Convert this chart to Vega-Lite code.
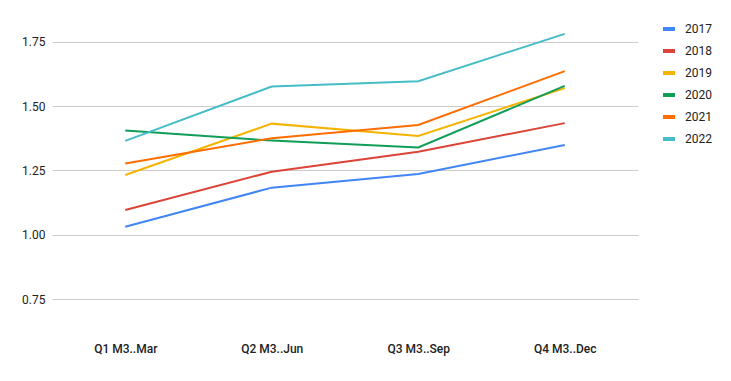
{
  "$schema": "https://vega.github.io/schema/vega-lite/v6.json",
  "width": 586,
  "height": 270,
  "autosize": {"type": "none"},
  "padding": {"left": 52, "top": 29, "right": 93, "bottom": 82},
  "background": "white",
  "config": {
    "view": {"stroke": null},
    "font": "Roboto"
  },
  "data": {
    "values": [
      {"q": "Q1 M3..Mar", "year": "2017", "v": 1.031},
      {"q": "Q2 M3..Jun", "year": "2017", "v": 1.183},
      {"q": "Q3 M3..Sep", "year": "2017", "v": 1.236},
      {"q": "Q4 M3..Dec", "year": "2017", "v": 1.349},
      {"q": "Q1 M3..Mar", "year": "2018", "v": 1.096},
      {"q": "Q2 M3..Jun", "year": "2018", "v": 1.245},
      {"q": "Q3 M3..Sep", "year": "2018", "v": 1.323},
      {"q": "Q4 M3..Dec", "year": "2018", "v": 1.434},
      {"q": "Q1 M3..Mar", "year": "2019", "v": 1.232},
      {"q": "Q2 M3..Jun", "year": "2019", "v": 1.432},
      {"q": "Q3 M3..Sep", "year": "2019", "v": 1.384},
      {"q": "Q4 M3..Dec", "year": "2019", "v": 1.570},
      {"q": "Q1 M3..Mar", "year": "2020", "v": 1.405},
      {"q": "Q2 M3..Jun", "year": "2020", "v": 1.366},
      {"q": "Q3 M3..Sep", "year": "2020", "v": 1.339},
      {"q": "Q4 M3..Dec", "year": "2020", "v": 1.579},
      {"q": "Q1 M3..Mar", "year": "2021", "v": 1.277},
      {"q": "Q2 M3..Jun", "year": "2021", "v": 1.375},
      {"q": "Q3 M3..Sep", "year": "2021", "v": 1.427},
      {"q": "Q4 M3..Dec", "year": "2021", "v": 1.636},
      {"q": "Q1 M3..Mar", "year": "2022", "v": 1.365},
      {"q": "Q2 M3..Jun", "year": "2022", "v": 1.576},
      {"q": "Q3 M3..Sep", "year": "2022", "v": 1.597},
      {"q": "Q4 M3..Dec", "year": "2022", "v": 1.781}
    ]
  },
  "mark": {"type": "line", "strokeWidth": 2},
  "encoding": {
    "x": {
      "field": "q",
      "type": "ordinal",
      "scale": {"type": "point", "padding": 0.5, "domain": ["Q1 M3..Mar", "Q2 M3..Jun", "Q3 M3..Sep", "Q4 M3..Dec"]},
      "axis": {
        "title": null,
        "labelAngle": 0,
        "domain": false,
        "ticks": false,
        "grid": false,
        "labelPadding": 44,
        "labelFontSize": 12,
        "labelColor": "#222222",
        "labelFontWeight": 500
      }
    },
    "y": {
      "field": "v",
      "type": "quantitative",
      "scale": {"domain": [0.75, 1.8], "nice": false, "zero": false},
      "axis": {
        "title": null,
        "values": [0.75, 1.0, 1.25, 1.5, 1.75],
        "format": ".2f",
        "domain": false,
        "ticks": false,
        "grid": true,
        "gridColor": "#cccccc",
        "gridWidth": 1,
        "labelPadding": 7,
        "labelFontSize": 12,
        "labelColor": "#222222"
      }
    },
    "color": {
      "field": "year",
      "type": "nominal",
      "scale": {
        "domain": ["2017", "2018", "2019", "2020", "2021", "2022"],
        "range": ["#4285F4", "#DB4437", "#F4B400", "#0F9D58", "#FF6D01", "#46BDC6"]
      },
      "legend": {
        "title": null,
        "orient": "none",
        "legendX": 609,
        "legendY": -8,
        "symbolType": "stroke",
        "symbolSize": 144,
        "symbolStrokeWidth": 4,
        "labelFontSize": 12,
        "labelColor": "#222222",
        "rowPadding": 6,
        "labelOffset": 8
      }
    }
  }
}
